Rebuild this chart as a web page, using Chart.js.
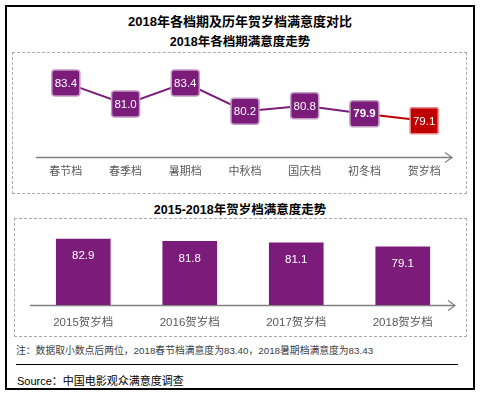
<!DOCTYPE html>
<html><head><meta charset="utf-8">
<script src="https://cdn.jsdelivr.net/npm/chart.js@4.4.1/dist/chart.umd.min.js"></script>
<style>
html,body{margin:0;padding:0;background:#fff;width:480px;height:397px;overflow:hidden;font-family:"Liberation Sans","Noto Sans CJK SC",sans-serif;}
.abs{position:absolute;}
#frame{left:5px;top:5px;width:470px;height:385px;border:2px solid #000;box-sizing:border-box;}
.title{left:0;width:480px;text-align:center;font-weight:bold;color:#000;white-space:nowrap;font-family:"Liberation Sans","Noto Sans CJK SC",sans-serif;}
.dash{border:1px dashed #aaa;box-sizing:border-box;}
</style></head><body>
<div id="frame" class="abs"></div>
<div class="abs title" style="top:13px;font-size:13px;line-height:18px;">2018年各档期及历年贺岁档满意度对比</div>
<div class="abs title" style="top:33px;font-size:12.5px;line-height:18px;">2018年各档期满意度走势</div>
<div class="abs dash" style="left:12px;top:52px;width:455px;height:142px;"></div>
<div class="abs title" style="top:201px;font-size:12.5px;line-height:18px;">2015-2018年贺岁档满意度走势</div>
<div class="abs dash" style="left:14px;top:218px;width:453px;height:119px;"></div>
<canvas id="c1" class="abs" style="left:12px;top:52px;" width="454" height="141"></canvas>
<canvas id="c2" class="abs" style="left:14px;top:218px;" width="452" height="118"></canvas>
<div class="abs" style="left:16px;top:344px;font-size:9.8px;line-height:14px;color:#404040;white-space:nowrap;">注：数据取小数点后两位，2018春节档满意度为83.40，2018暑期档满意度为83.43</div>
<div class="abs" style="left:16px;top:364px;width:442px;height:1px;background:#000;"></div>
<div class="abs" style="left:17px;top:373px;font-size:11px;line-height:16px;color:#000;white-space:nowrap;">Source：中国电影观众满意度调查</div>
<script>
const seasons = ['春节档','春季档','暑期档','中秋档','国庆档','初冬档','贺岁档'];
const seasonScores = [83.4, 81.0, 83.4, 80.2, 80.8, 79.9, 79.1];
const years = ['2015贺岁档','2016贺岁档','2017贺岁档','2018贺岁档'];
const yearScores = [82.9, 81.8, 81.1, 79.1];

const PURPLE = '#7B1C7B';
const RED = '#C00000';
const FONT = '"Liberation Sans","Noto Sans CJK SC",sans-serif';

function roundRect(ctx,x,y,w,h,r){
  ctx.beginPath();
  ctx.moveTo(x+r,y);ctx.lineTo(x+w-r,y);ctx.quadraticCurveTo(x+w,y,x+w,y+r);
  ctx.lineTo(x+w,y+h-r);ctx.quadraticCurveTo(x+w,y+h,x+w-r,y+h);
  ctx.lineTo(x+r,y+h);ctx.quadraticCurveTo(x,y+h,x,y+h-r);
  ctx.lineTo(x,y+r);ctx.quadraticCurveTo(x,y,x+r,y);ctx.closePath();
}
function arrowAxis(tipOffset){
  return {
    id:'arrowAxis',
    beforeDatasetsDraw(chart){
      const ctx=chart.ctx, a=chart.chartArea;
      const y=a.bottom+0.5, x0=a.left, x1=a.right+tipOffset;
      ctx.save();
      ctx.strokeStyle='#808080';ctx.lineWidth=1.5;
      ctx.beginPath();ctx.moveTo(x0,y);ctx.lineTo(x1,y);ctx.stroke();
      ctx.lineWidth=1.2;
      ctx.beginPath();ctx.moveTo(x1-7,y-5);ctx.lineTo(x1,y);ctx.lineTo(x1-7,y+5);ctx.stroke();
      ctx.restore();
    }
  };
}
const boxPlugin = {
  id:'boxes',
  afterDatasetsDraw(chart){
    const ctx=chart.ctx; const meta=chart.getDatasetMeta(0);
    meta.data.forEach((pt,i)=>{
      const last = i===seasonScores.length-1;
      const bold = seasonScores[i]===Math.min(...seasonScores.slice(0,-1));
      const w = bold?29:28, h=26;
      ctx.save();
      roundRect(ctx,pt.x-w/2,pt.y-h/2,w,h,last?1.5:3);
      ctx.fillStyle = last?RED:PURPLE; ctx.fill();
      ctx.lineWidth=1.5; ctx.strokeStyle = last?'#E88A8A':'#C39BC3'; ctx.stroke();
      ctx.fillStyle='#fff';
      ctx.font=(bold?'bold ':'')+'11.5px '+FONT;
      ctx.textAlign='center';ctx.textBaseline='middle';
      ctx.fillText(seasonScores[i].toFixed(1),pt.x,pt.y+0.5);
      ctx.restore();
    });
  }
};
new Chart(document.getElementById('c1'),{
  type:'line',
  data:{labels:seasons,datasets:[{data:seasonScores,borderWidth:2,borderColor:PURPLE,
    segment:{borderColor:c=>c.p1DataIndex===seasonScores.length-1?RED:PURPLE},
    pointRadius:0,tension:0,fill:false}]},
  options:{responsive:false,animation:false,devicePixelRatio:1,
    layout:{padding:{left:24,right:12,top:8,bottom:0}},
    plugins:{legend:{display:false},tooltip:{enabled:false}},
    scales:{
      x:{offset:true,grid:{display:false,drawTicks:false},border:{display:false},
        ticks:{color:'#595959',font:{size:11,family:FONT},padding:8},
        afterFit:s=>{s.height=36;}},
      y:{display:false,min:75,max:86}
    }},
  plugins:[arrowAxis(-2),boxPlugin]
});
const barLabels = {
  id:'barLabels',
  afterDatasetsDraw(chart){
    const ctx=chart.ctx; const meta=chart.getDatasetMeta(0);
    ctx.save();ctx.fillStyle='#fff';ctx.font='11.5px '+FONT;ctx.textAlign='center';ctx.textBaseline='middle';
    meta.data.forEach((b,i)=>{ctx.fillText(yearScores[i].toFixed(1),b.x,b.y+17);});
    ctx.restore();
  }
};
new Chart(document.getElementById('c2'),{
  type:'bar',
  data:{labels:years,datasets:[{data:yearScores,backgroundColor:PURPLE,barThickness:54,borderWidth:0}]},
  options:{responsive:false,animation:false,devicePixelRatio:1,
    layout:{padding:{left:16,right:10,top:7,bottom:0}},
    plugins:{legend:{display:false},tooltip:{enabled:false}},
    scales:{
      x:{grid:{display:false,drawTicks:false},border:{display:false},
        ticks:{color:'#595959',font:{size:11.5,family:FONT},padding:11},
        afterFit:s=>{s.height=31;}},
      y:{display:false,min:50,max:90}
    }},
  plugins:[arrowAxis(-1),barLabels]
});
</script>
</body></html>
